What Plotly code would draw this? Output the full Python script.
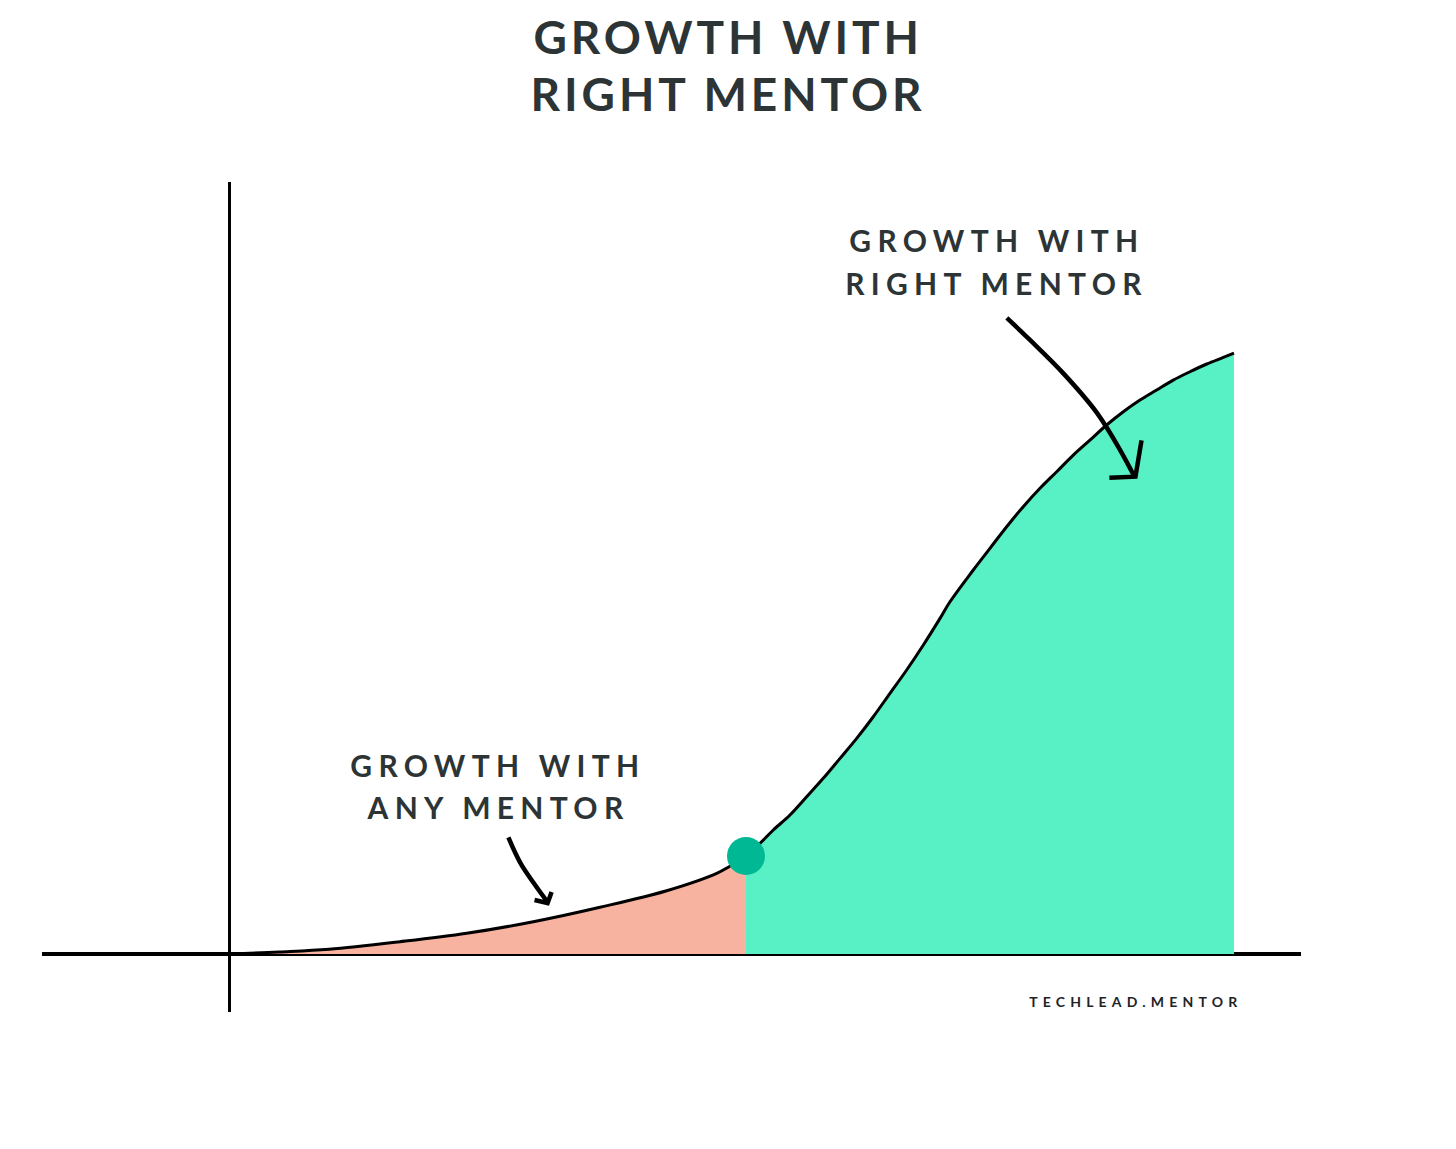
import plotly.graph_objects as go

# ---- data (x: time units, y: growth units) ----
growth_x = [0, 0.4975, 0.995, 1.701, 2.365, 3.028, 3.692, 4.355, 4.853, 4.975,
            5.144,
            5.284, 5.416, 5.582, 5.748, 5.913, 6.080, 6.246, 6.411, 6.577, 6.743, 6.909, 7.075, 7.174,
            7.406, 7.572, 7.738, 7.903, 8.070, 8.236, 8.401, 8.567, 8.733, 8.899, 9.065, 9.231,
            9.396, 9.562, 9.729, 9.894, 10.0]
growth_y = [0, 0.020, 0.047, 0.122, 0.206, 0.321, 0.465, 0.630, 0.803, 0.869,
            0.975,
            1.101, 1.234, 1.383, 1.565, 1.748, 1.947, 2.146, 2.361, 2.594, 2.826, 3.075, 3.340, 3.505,
            3.821, 4.037, 4.252, 4.451, 4.634, 4.799, 4.965, 5.114, 5.264, 5.396, 5.512, 5.612,
            5.711, 5.794, 5.871, 5.937, 5.980]
switch_index = 10  # point where the right mentor is found

right_arrow_x = [7.74, 7.97, 8.30, 8.64, 8.87, 9.01]
right_arrow_y = [6.33, 6.11, 5.78, 5.38, 5.01, 4.75]
right_head_x = [9.08, 9.02, 8.76]
right_head_y = [5.11, 4.75, 4.74]

any_arrow_x = [2.78, 2.90, 3.06, 3.17]
any_arrow_y = [1.16, 0.905, 0.667, 0.517]
any_head_x = [3.21, 3.17, 3.04]
any_head_y = [0.617, 0.507, 0.537]

title_lines = ["GROWTH WITH", "RIGHT MENTOR"]
right_label = ["GROWTH WITH", "RIGHT MENTOR"]
any_label = ["GROWTH WITH", "ANY MENTOR"]
credit = "TECHLEAD.MENTOR"

SALMON = "#F8B3A0"
GREEN = "#58F0C5"
DOT = "#00B894"
TEXT = "#2D3436"
FONT = "Lato"

fig = go.Figure()

curve_line = dict(shape="spline", smoothing=1.0)
# fills
fig.add_trace(go.Scatter(x=growth_x[:switch_index + 1], y=growth_y[:switch_index + 1],
                         fill="tozeroy", fillcolor=SALMON, mode="lines",
                         line=dict(width=0, **curve_line), hoverinfo="skip"))
fig.add_trace(go.Scatter(x=growth_x[switch_index:], y=growth_y[switch_index:],
                         fill="tozeroy", fillcolor=GREEN, mode="lines",
                         line=dict(width=0, **curve_line), hoverinfo="skip"))
# curve
fig.add_trace(go.Scatter(x=growth_x, y=growth_y, mode="lines",
                         line=dict(color="black", width=3, **curve_line), hoverinfo="skip"))
# arrows: shafts (smooth) and heads (straight)
for ax_, ay_ in [(right_arrow_x, right_arrow_y), (any_arrow_x, any_arrow_y)]:
    fig.add_trace(go.Scatter(x=ax_, y=ay_, mode="lines",
                             line=dict(color="black", width=4.5, shape="spline", smoothing=1.0),
                             hoverinfo="skip"))
for ax_, ay_ in [(right_head_x, right_head_y), (any_head_x, any_head_y)]:
    fig.add_trace(go.Scatter(x=ax_, y=ay_, mode="lines",
                             line=dict(color="black", width=4.5, shape="linear"),
                             hoverinfo="skip"))
# switch dot
fig.add_trace(go.Scatter(x=[growth_x[switch_index]], y=[growth_y[switch_index]], mode="markers",
                         marker=dict(size=38, color=DOT, line=dict(width=0)), hoverinfo="skip"))

annotations = []
for line, yp in zip(title_lines, [1.1747, 1.1072]):
    annotations.append(dict(text=line, x=4.97, xref="x", y=yp, yref="paper",
                            xanchor="center", yanchor="middle", showarrow=False,
                            font=dict(family=FONT, size=46, color=TEXT, weight=700)))
for line, yv in zip(right_label, [7.104, 6.677]):
    annotations.append(dict(text=line, x=7.64, y=yv, xanchor="center", yanchor="middle",
                            showarrow=False, font=dict(family=FONT, size=30, color=TEXT, weight=700)))
for line, yv in zip(any_label, [1.881, 1.463]):
    annotations.append(dict(text=line, x=2.68, y=yv, xanchor="center", yanchor="middle",
                            showarrow=False, font=dict(family=FONT, size=30, color=TEXT, weight=700)))
annotations.append(dict(text=credit, x=9.03, y=-0.468, xanchor="center", yanchor="middle",
                        showarrow=False, font=dict(family=FONT, size=14, color="#1E2326", weight=700)))

axis_common = dict(showgrid=False, showticklabels=False, ticks="", showline=False,
                   zeroline=True, zerolinecolor="black", fixedrange=True,
                   layer="above traces")
fig.update_layout(
    width=1456, height=1149,
    margin=dict(l=42, r=155, t=182, b=137),
    paper_bgcolor="white", plot_bgcolor="white",
    showlegend=False,
    xaxis=dict(range=[-1.861, 10.667], zerolinewidth=3, **axis_common),
    yaxis=dict(range=[-0.577, 7.682], zerolinewidth=4, **axis_common),
    annotations=annotations,
)

post = """
document.body.style.margin='0';
var gd=document.getElementById('{plot_id}');
var sp=[0.085,0.085,0.21,0.21,0.21,0.21,0.37];
gd.querySelectorAll('.annotation').forEach(function(a,i){
  var t=a.querySelector('text'); if(t){t.style.letterSpacing=sp[i]+'em';}
});
"""
fig.write_html("out.html", config={"displayModeBar": False}, post_script=post)
